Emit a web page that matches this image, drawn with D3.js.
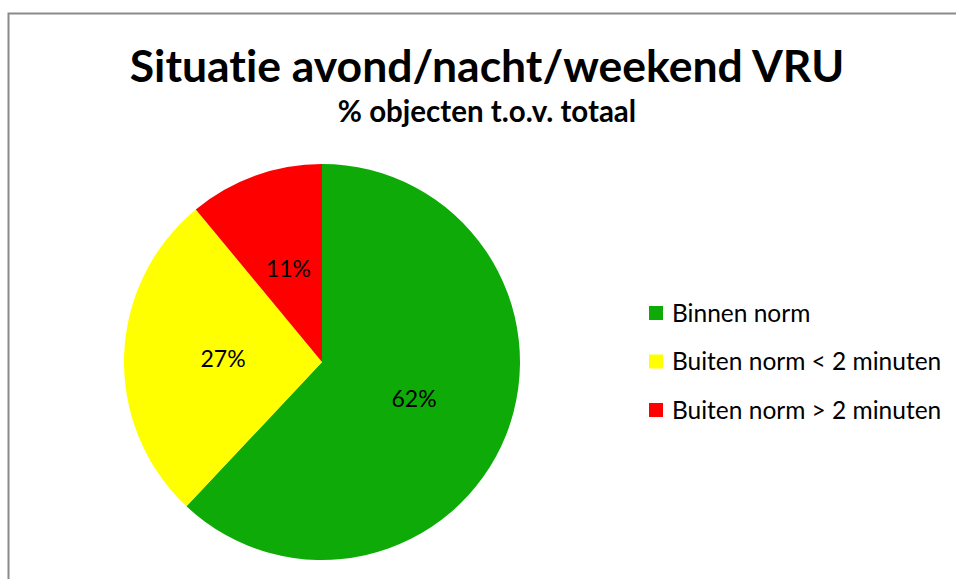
<!DOCTYPE html>
<html>
<head>
<meta charset="utf-8">
<script src="https://cdn.jsdelivr.net/npm/d3@7"></script>
<style>
  body { margin: 0; background: #fff; }
  svg text { font-family: Lato, "Open Sans", sans-serif; fill: #000; font-variant-ligatures: none; }
</style>
</head>
<body>
<script>
// data
const categories = ['Binnen norm', 'Buiten norm < 2 minuten', 'Buiten norm > 2 minuten'];
const values = [62, 27, 11];
const colors = ['#0eab08', '#ffff00', '#ff0000'];
const title = 'Situatie avond/nacht/weekend VRU';
const subtitle = '% objecten t.o.v. totaal';

const width = 956;
const height = 579;

const svg = d3.select('body').append('svg')
    .attr('width', width)
    .attr('height', height);

// chart frame (only left and top edges are inside the picture)
svg.append('path')
    .attr('d', `M8.5,${height} V13.5 H${width}`)
    .attr('fill', 'none')
    .attr('stroke', '#8a8a8a')
    .attr('stroke-width', 2);

svg.append('text')
    .attr('x', 487).attr('y', 82)
    .attr('text-anchor', 'middle')
    .style('font-weight', 'bold')
    .style('font-size', '44.5px')
    .text(title);

svg.append('text')
    .attr('x', 487).attr('y', 122)
    .attr('text-anchor', 'middle')
    .style('font-weight', 'bold')
    .style('font-size', '29.5px')
    .text(subtitle);

// pie
const R = 198;
const color = d3.scaleOrdinal().domain(categories).range(colors);
const pie = d3.pie().sort(null).value((d, i) => values[i]);
const arc = d3.arc().innerRadius(0).outerRadius(R);

const g = svg.append('g').attr('transform', 'translate(322,362)');
const arcs = pie(categories);

g.selectAll('path.slice').data(arcs).enter()
    .append('path')
    .classed('slice', true)
    .attr('d', arc)
    .attr('fill', (d) => color(d.data));

g.selectAll('text.label').data(arcs).enter()
    .append('text')
    .classed('label', true)
    .attr('transform', (d) => `translate(${arc.centroid(d)})`)
    .attr('text-anchor', 'middle')
    .attr('dy', '0.35em')
    .style('font-size', '23px')
    .text((d) => d.value + '%');

// legend
const legendY = d3.scalePoint().domain(categories).range([313, 410]);
const legend = svg.append('g').selectAll('g').data(categories).enter()
    .append('g')
    .attr('transform', (d) => `translate(649,${legendY(d)})`);

legend.append('rect')
    .attr('x', 0).attr('y', -7)
    .attr('width', 14).attr('height', 14)
    .attr('fill', (d) => color(d));

legend.append('text')
    .attr('x', 23).attr('y', 0)
    .attr('dy', '0.35em')
    .style('font-size', '24.5px')
    .text((d) => d);
</script>
</body>
</html>
